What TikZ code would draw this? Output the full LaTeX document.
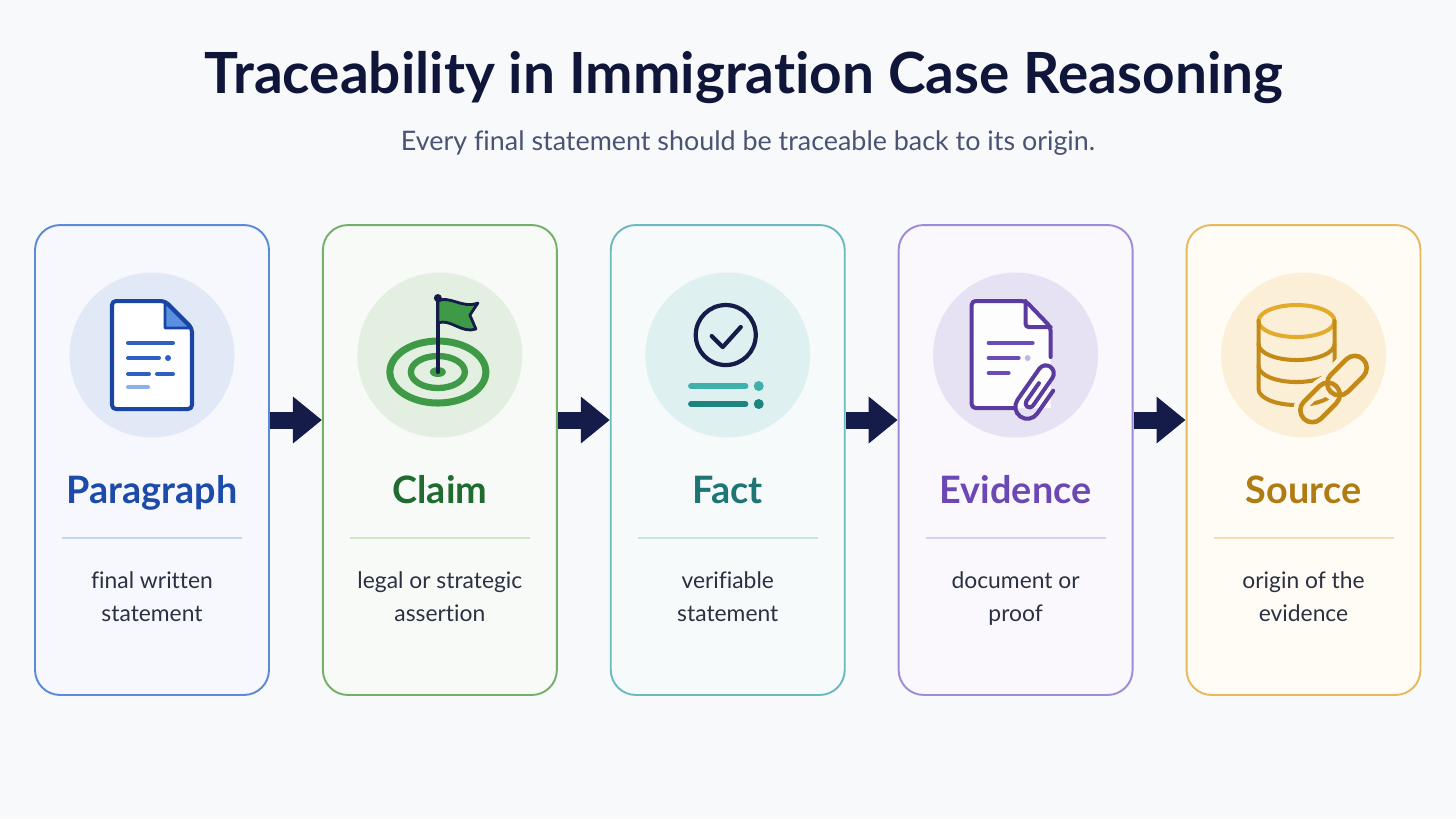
\documentclass[tikz,border=0pt]{standalone}
\usepackage{fontspec}
\setmainfont{Lato}[Ligatures=NoCommon]
\usetikzlibrary{positioning,arrows.meta}

\definecolor{navy}{HTML}{161C4A}
\definecolor{titlec}{HTML}{10163A}
\definecolor{subc}{HTML}{4B5374}
\definecolor{descc}{HTML}{2B3042}
\definecolor{bgc}{HTML}{F8F9FB}

\definecolor{blueln}{HTML}{5A8AD8}
\definecolor{bluebg}{HTML}{F6F8FD}
\definecolor{bluedisc}{HTML}{E2E9F6}
\definecolor{bluetxt}{HTML}{1C4BAA}
\definecolor{blueic}{HTML}{1A45A5}
\definecolor{bluemid}{HTML}{2F5FC0}
\definecolor{bluefold}{HTML}{5B8FE0}
\definecolor{bluesep}{HTML}{C2D4F1}

\definecolor{greenln}{HTML}{74B06A}
\definecolor{greenbg}{HTML}{F8FAF7}
\definecolor{greendisc}{HTML}{E3F0E1}
\definecolor{greentxt}{HTML}{1F6B30}
\definecolor{greenic}{HTML}{3E9A47}
\definecolor{greensep}{HTML}{CFE6CB}

\definecolor{tealln}{HTML}{6DBABD}
\definecolor{tealbg}{HTML}{F7FAFA}
\definecolor{tealdisc}{HTML}{DFF0F0}
\definecolor{tealtxt}{HTML}{1E7674}
\definecolor{tealA}{HTML}{3FB0AA}
\definecolor{tealB}{HTML}{1E8480}
\definecolor{tealsep}{HTML}{C6E5E6}

\definecolor{purpleln}{HTML}{A08BD6}
\definecolor{purplebg}{HTML}{FAF8FD}
\definecolor{purpledisc}{HTML}{E6E1F3}
\definecolor{purpletxt}{HTML}{6B48B3}
\definecolor{purpleic}{HTML}{5B3BA0}
\definecolor{purplemid}{HTML}{6A4CB8}
\definecolor{purplesep}{HTML}{D9D0EE}

\definecolor{goldln}{HTML}{E8B95A}
\definecolor{goldbg}{HTML}{FFFCF6}
\definecolor{golddisc}{HTML}{FCEFD8}
\definecolor{goldtxt}{HTML}{B07B12}
\definecolor{goldA}{HTML}{E3AA2B}
\definecolor{goldB}{HTML}{C38A17}
\definecolor{goldsep}{HTML}{F3DFB3}

\begin{document}
\begin{tikzpicture}[%
    x=0.02cm,
    y=-0.02cm,
    node distance=1.04cm,
    card/.style={%
      rectangle,
      rounded corners=0.5cm,
      minimum width=4.68cm,
      minimum height=9.4cm,
      line width=1.1pt,
      draw
    },
    disc/.style={circle, minimum size=3.3cm, inner sep=0pt},
    cardtitle/.style={font=\fontsize{21.5}{25}\selectfont\bfseries, anchor=base},
    desc/.style={%
      font=\fontsize{13}{18.8}\selectfont,
      text=descc,
      align=center,
      execute at begin node=\strut,
      execute at end node=\strut
    },
    sepline/.style={line width=1.3pt},
    flow/.style={-{Triangle[length=0.58cm,width=0.9cm]}, line width=0.34cm, draw=navy},
    ico/.style={line width=2.3pt, line cap=round, line join=round}
  ]
    \fill[bgc] (0,0) rectangle (1456,819);

    \node[font=\fontsize{32.3}{37}\selectfont\bfseries, text=titlec, anchor=base] (title) at (744,93)
      {Traceability in Immigration Case Reasoning};
    \node[font=\fontsize{15.3}{18}\selectfont, text=subc, anchor=base] (sub) at (748,150)
      {Every final statement should be traceable back to its origin.};

    \node[card, draw=blueln, fill=bluebg] (1) at (152,460) {};
    \node[card, draw=greenln, fill=greenbg] (2) [right=of 1] {};
    \node[card, draw=tealln, fill=tealbg] (3) [right=of 2] {};
    \node[card, draw=purpleln, fill=purplebg] (4) [right=of 3] {};
    \node[card, draw=goldln, fill=goldbg] (5) [right=of 4] {};

    \path ([yshift=0.8cm]1.east) edge[flow] ([yshift=0.8cm]2.west)
          ([yshift=0.8cm]2.east) edge[flow] ([yshift=0.8cm]3.west)
          ([yshift=0.8cm]3.east) edge[flow] ([yshift=0.8cm]4.west)
          ([yshift=0.8cm]4.east) edge[flow] ([yshift=0.8cm]5.west);

    \node[disc, fill=bluedisc] (i1) at ([yshift=2.1cm]1.center) {};
    \node[disc, fill=greendisc] (i2) at ([yshift=2.1cm]2.center) {};
    \node[disc, fill=tealdisc] (i3) at ([yshift=2.1cm]3.center) {};
    \node[disc, fill=purpledisc] (i4) at ([yshift=2.1cm]4.center) {};
    \node[disc, fill=golddisc] (i5) at ([yshift=2.1cm]5.center) {};

    \node[cardtitle, text=bluetxt] (t1) at ([yshift=-0.86cm]1.center) {Paragraph};
    \node[cardtitle, text=greentxt] (t2) at ([yshift=-0.86cm]2.center) {Claim};
    \node[cardtitle, text=tealtxt] (t3) at ([yshift=-0.86cm]3.center) {Fact};
    \node[cardtitle, text=purpletxt] (t4) at ([yshift=-0.86cm]4.center) {Evidence};
    \node[cardtitle, text=goldtxt] (t5) at ([yshift=-0.86cm]5.center) {Source};

    \draw[sepline, bluesep] ([xshift=-1.8cm,yshift=-1.56cm]1.center) -- ([xshift=1.8cm,yshift=-1.56cm]1.center);
    \draw[sepline, greensep] ([xshift=-1.8cm,yshift=-1.56cm]2.center) -- ([xshift=1.8cm,yshift=-1.56cm]2.center);
    \draw[sepline, tealsep] ([xshift=-1.8cm,yshift=-1.56cm]3.center) -- ([xshift=1.8cm,yshift=-1.56cm]3.center);
    \draw[sepline, purplesep] ([xshift=-1.8cm,yshift=-1.56cm]4.center) -- ([xshift=1.8cm,yshift=-1.56cm]4.center);
    \draw[sepline, goldsep] ([xshift=-1.8cm,yshift=-1.56cm]5.center) -- ([xshift=1.8cm,yshift=-1.56cm]5.center);

    \node[desc] (d1) at ([yshift=-2.84cm]1.center) {final written\\statement};
    \node[desc] (d2) at ([yshift=-2.84cm]2.center) {legal or strategic\\assertion};
    \node[desc] (d3) at ([yshift=-2.84cm]3.center) {verifiable\\statement};
    \node[desc] (d4) at ([yshift=-2.84cm]4.center) {document or\\proof};
    \node[desc] (d5) at ([yshift=-2.84cm]5.center) {origin of the\\evidence};

    % paragraph: page with text lines
    \begin{scope}[shift={(i1.center)}]
      \filldraw[ico, draw=blueic, fill=white, rounded corners=0.08cm]
        (-40,-54) -- (13,-54) -- (40,-27) -- (40,54) -- (-40,54) -- cycle;
      \filldraw[ico, draw=blueic, fill=bluefold, line width=1.6pt] (13,-53) -- (13,-27) -- (39,-27) -- cycle;
      \draw[ico, bluemid] (-24,-12) -- (21,-12) (-24,3) -- (7,3) (-24,19) -- (-3,19) (5,19) -- (21,19);
      \fill[bluemid] (16,3) circle [radius=3];
      \draw[ico, bluefold!70] (-24,32) -- (-4,32);
    \end{scope}

    % claim: flag on a target
    \begin{scope}[shift={(i2.center)}]
      \draw[greenic, line width=4pt] (-2,17) ellipse [x radius=48, y radius=31];
      \draw[greenic, line width=3.6pt] (-2,17) ellipse [x radius=27, y radius=16];
      \fill[greenic] (-2,17) ellipse [x radius=8, y radius=5];
      \draw[ico, navy, line width=2.4pt] (-2,17) -- (-2,-56);
      \fill[navy] (-2,-57) circle [radius=4];
      \filldraw[ico, draw=navy, fill=greenic, line width=1.6pt]
        (-2,-54) .. controls (10,-60) and (22,-46) .. (38,-52) -- (30,-40) -- (36,-26)
        .. controls (22,-21) and (10,-37) .. (-2,-32) -- cycle;
    \end{scope}

    % fact: check mark and list
    \begin{scope}[shift={(i3.center)}]
      \draw[ico, navy, line width=2.4pt] (-2,-20) circle [radius=30];
      \draw[ico, navy, line width=2.4pt] (-16,-19) -- (-5,-8) -- (13,-28);
      \draw[ico, tealA, line width=3pt] (-37,31) -- (18,31);
      \fill[tealA] (31,31) circle [radius=5];
      \draw[ico, tealB, line width=3pt] (-37,49) -- (18,49);
      \fill[tealB] (31,49) circle [radius=5];
    \end{scope}

    % evidence: page with paper clip
    \begin{scope}[shift={(i4.center)}]
      \fill[white!70!purplebg] (-44,-54) -- (10,-54) -- (35,-28) -- (35,53) -- (-44,53) -- cycle;
      \draw[ico, purpleic, rounded corners=0.08cm]
        (-2,53) -- (-44,53) -- (-44,-54) -- (10,-54) -- (35,-28) -- (35,2);
      \draw[ico, purpleic, rounded corners=0.06cm] (10,-54) -- (10,-28) -- (35,-28);
      \draw[ico, purplemid] (-27,-12) -- (17,-12) (-27,3) -- (3,3) (-27,18) -- (-7,18);
      \fill[purplemid!40] (12,3) circle [radius=3];
      \begin{scope}[shift={(22,37)}, rotate=-35]
        \draw[ico, purpleic]
          (-4,-8) -- (-4,14) arc [start angle=180, end angle=0, radius=4]
          -- (4,-20) arc [start angle=0, end angle=-180, radius=8]
          -- (-12,18) arc [start angle=180, end angle=0, radius=12] -- (12,-10);
      \end{scope}
    \end{scope}

    % source: database with link
    \begin{scope}[shift={(i5.center)}]
      \draw[ico, goldA] (-7,-34) ellipse [x radius=38, y radius=16];
      \draw[ico, goldB] (-45,-34) -- (-45,34) arc [start angle=180, end angle=0, x radius=38, y radius=16]
        -- (31,-34);
      \draw[ico, goldB] (-45,-11) arc [start angle=180, end angle=0, x radius=38, y radius=16];
      \draw[ico, goldB] (-45,11) arc [start angle=180, end angle=0, x radius=38, y radius=16];
      \begin{scope}[shift={(30,34)}, rotate=45]
        \draw[golddisc, line width=8pt, rounded corners=0.24cm] (-42,-12) rectangle (4,12) (-4,-12) rectangle (42,12);
        \draw[ico, goldB, line width=2.6pt, rounded corners=0.24cm] (-42,-12) rectangle (4,12);
        \draw[ico, goldB, line width=2.6pt, rounded corners=0.24cm] (-4,-12) rectangle (42,12);
      \end{scope}
    \end{scope}
\end{tikzpicture}
\end{document}
